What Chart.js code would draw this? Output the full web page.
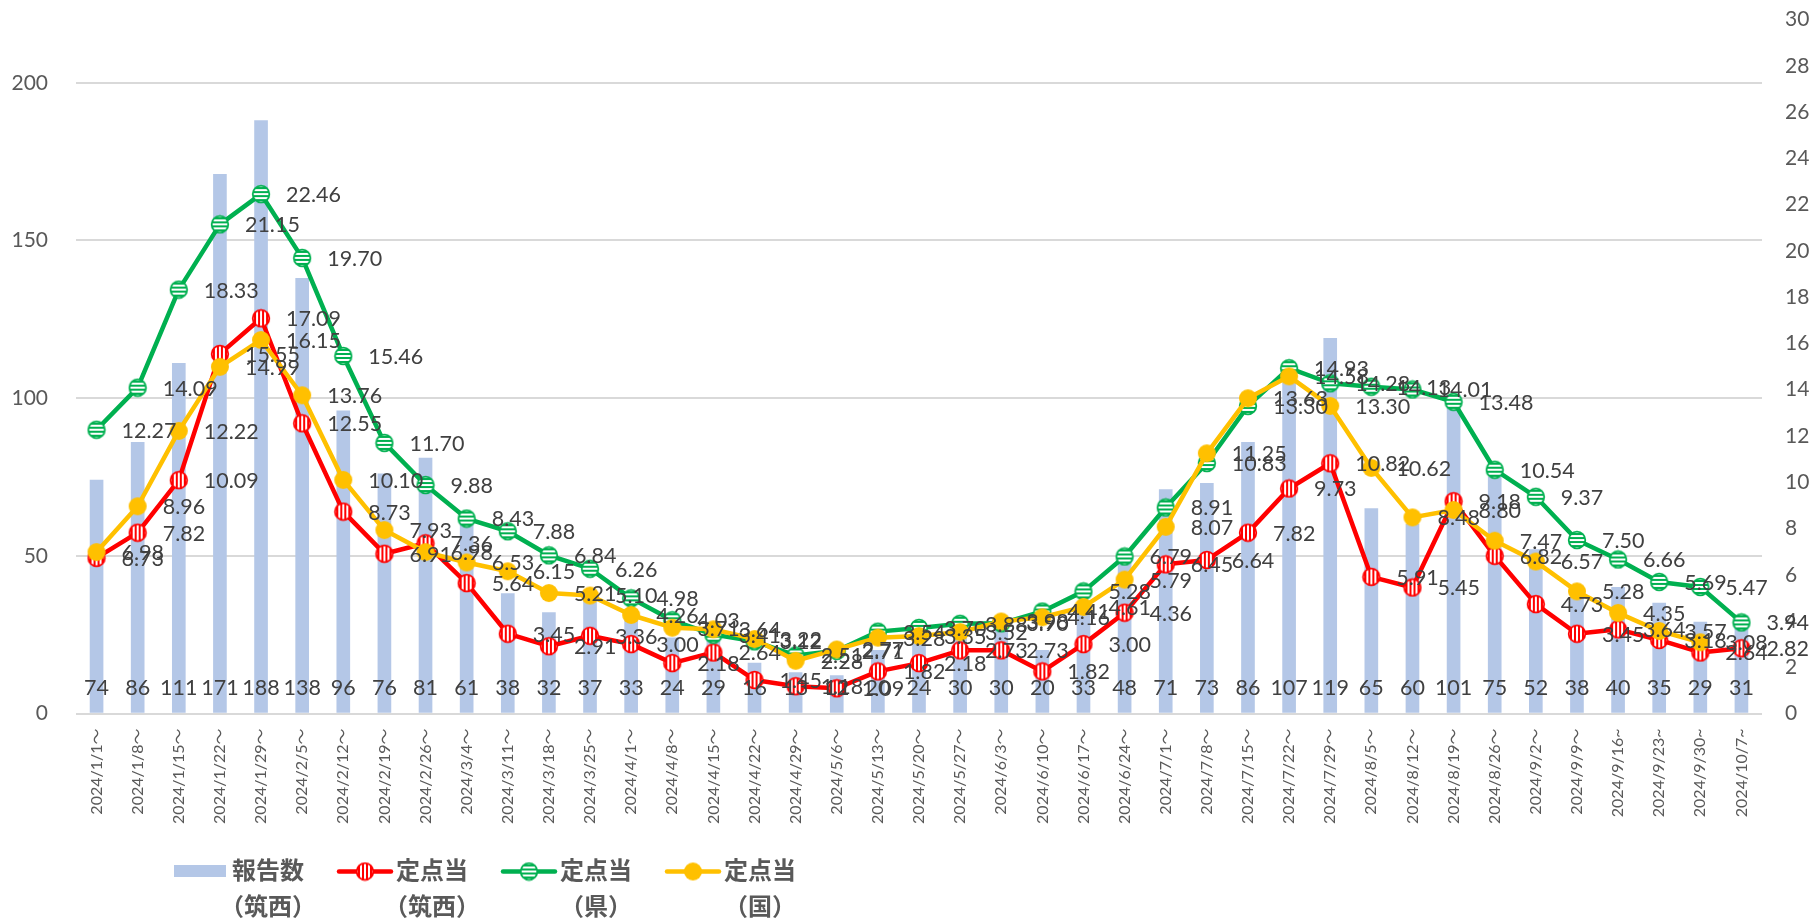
<!DOCTYPE html>
<html><head><meta charset="utf-8">
<script src="https://cdn.jsdelivr.net/npm/chart.js@4.4.1/dist/chart.umd.min.js"></script>
<style>html,body{margin:0;padding:0;background:#fff;}#wrap{width:1814px;height:919px;position:relative;}</style>
</head><body><div id="wrap"><canvas id="c" width="1814" height="919"></canvas></div>
<script>
const categories = ['2024/1/1～','2024/1/8～','2024/1/15～','2024/1/22～','2024/1/29～','2024/2/5～','2024/2/12～','2024/2/19～','2024/2/26～','2024/3/4～','2024/3/11～','2024/3/18～','2024/3/25～','2024/4/1～','2024/4/8～','2024/4/15～','2024/4/22～','2024/4/29～','2024/5/6～','2024/5/13～','2024/5/20～','2024/5/27～','2024/6/3～','2024/6/10～','2024/6/17～','2024/6/24～','2024/7/1～','2024/7/8～','2024/7/15～','2024/7/22～','2024/7/29～','2024/8/5～','2024/8/12～','2024/8/19～','2024/8/26～','2024/9/2～','2024/9/9～','2024/9/16~','2024/9/23~','2024/9/30~','2024/10/7~'];
const reportsChikusei = [74,86,111,171,188,138,96,76,81,61,38,32,37,33,24,29,16,13,12,20,24,30,30,20,33,48,71,73,86,107,119,65,60,101,75,52,38,40,35,29,31];
const perSiteChikusei = [6.73,7.82,10.09,15.55,17.09,12.55,8.73,6.91,7.36,5.64,3.45,2.91,3.36,3.00,2.18,2.64,1.45,1.18,1.09,1.82,2.18,2.73,2.73,1.82,3.00,4.36,6.45,6.64,7.82,9.73,10.82,5.91,5.45,9.18,6.82,4.73,3.45,3.64,3.18,2.64,2.82];
const perSitePref = [12.27,14.09,18.33,21.15,22.46,19.70,15.46,11.70,9.88,8.43,7.88,6.84,6.26,4.98,4.03,3.41,3.12,2.51,2.71,3.54,3.70,3.88,3.90,4.41,5.28,6.79,8.91,10.83,13.30,14.93,14.28,14.13,14.01,13.48,10.54,9.37,7.50,6.66,5.69,5.47,3.94];
const perSiteNation = [6.98,8.96,12.22,14.99,16.15,13.76,10.10,7.93,6.98,6.53,6.15,5.21,5.10,4.26,3.71,3.64,3.22,2.28,2.77,3.28,3.35,3.52,3.98,4.16,4.61,5.79,8.07,11.25,13.63,14.58,13.30,10.62,8.48,8.80,7.47,6.57,5.28,4.35,3.57,3.08,null];
const leftAxisTicks = [0,50,100,150,200];
const legendLine1 = ['報告数','定点当','定点当','定点当'];
const legendLine2 = ['（筑西）','（筑西）','（県）','（国）'];

const FONT = "Lato, 'Noto Sans CJK JP', sans-serif";
const TICK = '#595959';
const LABEL = '#404040';

function marker(kind){
  const c = document.createElement('canvas');
  c.width = 20; c.height = 20;
  const g = c.getContext('2d');
  const cx = 10, cy = 10, r = 8.3;
  if (kind === 'yellow'){
    g.beginPath(); g.arc(cx,cy,r+0.7,0,Math.PI*2); g.fillStyle = '#ffc000'; g.fill();
    return c;
  }
  const col = kind === 'red' ? '#ff0000' : '#00b050';
  g.save();
  g.beginPath(); g.arc(cx,cy,r,0,Math.PI*2); g.fillStyle = '#ffffff'; g.fill(); g.clip();
  g.fillStyle = col;
  for (let k = -10; k <= 10; k += 4){
    if (kind === 'red') g.fillRect(cx + k - 1, 0, 2, 20);
    else g.fillRect(0, cy + k - 1, 20, 2);
  }
  g.restore();
  g.beginPath(); g.arc(cx,cy,r,0,Math.PI*2); g.lineWidth = 1.8; g.strokeStyle = col; g.stroke();
  return c;
}
const mkRed = marker('red'), mkGreen = marker('green'), mkYellow = marker('yellow');

const labelPlugin = {
  id: 'valueLabels',
  afterDatasetsDraw(chart){
    const ctx = chart.ctx;
    ctx.save();
    ctx.font = '21.5px ' + FONT;
    ctx.fillStyle = LABEL;
    const barMeta = chart.getDatasetMeta(0);
    const base = chart.scales.y.getPixelForValue(0);
    ctx.textAlign = 'center'; ctx.textBaseline = 'middle';
    barMeta.data.forEach((el, i) => {
      ctx.fillText(String(chart.data.datasets[0].data[i]), el.x, base - 25);
    });
    ctx.textAlign = 'left';
    [1,2,3].forEach(di => {
      const meta = chart.getDatasetMeta(di);
      const d = chart.data.datasets[di].data;
      meta.data.forEach((el, i) => {
        if (d[i] === null || d[i] === undefined) return;
        ctx.fillText(d[i].toFixed(2), el.x + 25, el.y + 1);
      });
    });
    ctx.restore();
  }
};

const legendPlugin = {
  id: 'customLegend',
  afterDraw(chart){
    const ctx = chart.ctx;
    ctx.save();
    const y1 = 870, y2 = 906;
    const starts = [174, 337, 501, 665];
    const imgs = [null, mkRed, mkGreen, mkYellow];
    const cols = ['#b4c7e7', '#ff0000', '#00b050', '#ffc000'];
    starts.forEach((x, i) => {
      if (i === 0){
        ctx.fillStyle = cols[0];
        ctx.fillRect(x, y1 - 5, 52, 12);
      } else {
        ctx.strokeStyle = cols[i]; ctx.lineWidth = 4.5; ctx.lineCap = 'round';
        ctx.beginPath(); ctx.moveTo(x + 2, y1 + 1.5); ctx.lineTo(x + 54, y1 + 1.5); ctx.stroke();
        ctx.drawImage(imgs[i], x + 28 - 10, y1 + 1.5 - 10);
      }
      const tc = x + (i === 0 ? 94 : 95);
      ctx.fillStyle = TICK;
      ctx.font = "bold 24px 'Noto Sans CJK JP', sans-serif";
      ctx.textAlign = 'center'; ctx.textBaseline = 'middle';
      ctx.fillText(legendLine1[i], tc, y1);
      ctx.fillText(legendLine2[i], tc, y2);
    });
    ctx.restore();
  }
};

new Chart(document.getElementById('c'), {
  data: {
    labels: categories,
    datasets: [
      { type: 'bar', label: '報告数（筑西）', data: reportsChikusei, backgroundColor: '#b4c7e7', barThickness: 13, yAxisID: 'y', order: 4 },
      { type: 'line', label: '定点当（筑西）', data: perSiteChikusei, borderColor: '#ff0000', borderWidth: 4.5, pointStyle: mkRed, yAxisID: 'y1', order: 3, borderJoinStyle: 'round', borderCapStyle: 'round', tension: 0 },
      { type: 'line', label: '定点当（県）', data: perSitePref, borderColor: '#00b050', borderWidth: 4.5, pointStyle: mkGreen, yAxisID: 'y1', order: 2, borderJoinStyle: 'round', borderCapStyle: 'round', tension: 0 },
      { type: 'line', label: '定点当（国）', data: perSiteNation, borderColor: '#ffc000', borderWidth: 4.5, pointStyle: mkYellow, yAxisID: 'y1', order: 1, borderJoinStyle: 'round', borderCapStyle: 'round', tension: 0, spanGaps: false }
    ]
  },
  options: {
    responsive: false,
    animation: false,
    devicePixelRatio: 1,
    layout: { padding: { top: 19.7, left: 0, right: 0, bottom: 0 } },
    plugins: { legend: { display: false }, tooltip: { enabled: false } },
    scales: {
      x: {
        grid: { display: false, drawTicks: false },
        border: { display: false },
        ticks: { autoSkip: false, minRotation: 90, maxRotation: 90, padding: 15, color: TICK, font: { family: FONT, size: 16 } },
        afterFit(s){ s.height = 919 - 713.5; s.paddingLeft = 0; s.paddingRight = 0; }
      },
      y: {
        position: 'left', min: 0, max: 220, bounds: 'data',
        ticks: { stepSize: 50, includeBounds: false, padding: 28, color: TICK, font: { family: FONT, size: 21 } },
        afterBuildTicks(s){ s.ticks = leftAxisTicks.map(v => ({ value: v })); },
        grid: { color: '#d9d9d9', lineWidth: 2, drawTicks: false },
        border: { display: false },
        afterFit(s){ s.width = 76; s.paddingTop = 0; s.paddingBottom = 0; }
      },
      y1: {
        position: 'right', min: 0, max: 30, bounds: 'data',
        ticks: { stepSize: 2, padding: 23, color: TICK, font: { family: FONT, size: 21 } },
        grid: { display: false, drawTicks: false },
        border: { display: false },
        afterFit(s){ s.width = 1814 - 1762; s.paddingTop = 0; s.paddingBottom = 0; }
      }
    }
  },
  plugins: [labelPlugin, legendPlugin]
});
</script></body></html>
